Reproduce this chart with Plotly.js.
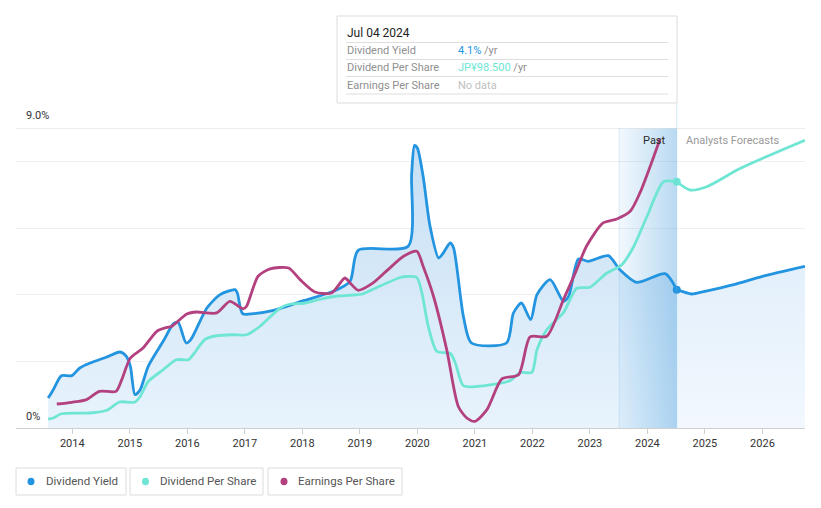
<!DOCTYPE html>
<html>
<head>
<meta charset="utf-8">
<script src="https://cdn.plot.ly/plotly-3.0.1.min.js"></script>
<style>
html,body{margin:0;padding:0;background:#fff;}
#chart{width:821px;height:508px;}
</style>
</head>
<body>
<div id="chart"></div>
<script>
// ---- Data (decimal years) ----
// Dividend Yield (%), past
const yieldYears = [2013.58,2013.67,2013.81,2013.99,2014.13,2014.31,2014.60,2014.83,2014.94,2015.01,2015.09,2015.18,2015.32,2015.58,2015.76,2015.84,2015.98,2016.06,2016.34,2016.57,2016.83,2016.87,2016.96,2017.15,2017.50,2017.73,2018.02,2018.54,2018.83,2018.97,2019.84,2019.90,2019.95,2020.00,2020.10,2020.22,2020.37,2020.45,2020.57,2020.63,2020.80,2020.94,2021.55,2021.67,2021.81,2021.97,2022.08,2022.31,2022.54,2022.63,2022.80,2022.97,2023.32,2023.52,2023.81,2024.31,2024.51];
const yieldValues = [0.90,1.15,1.57,1.57,1.80,1.95,2.13,2.28,2.15,1.85,1.00,1.15,1.85,2.60,3.13,3.17,2.55,2.65,3.60,4.00,4.15,4.05,3.43,3.43,3.53,3.65,3.82,4.10,4.40,5.33,5.45,7.60,8.48,8.40,7.55,6.05,5.10,5.25,5.55,5.40,3.35,2.55,2.55,3.45,3.75,3.25,4.00,4.45,3.80,3.95,5.07,5.00,5.17,4.75,4.37,4.63,4.15];
// Dividend Yield (%), analysts forecast
const yieldFcYears = [2024.51,2024.77,2025.00,2025.50,2026.00,2026.74];
const yieldFcValues = [4.15,4.02,4.10,4.30,4.55,4.85];

// Dividend Per Share (JP¥), past
const dpsYears = [2013.58,2013.67,2013.81,2014.31,2014.60,2014.82,2015.09,2015.18,2015.32,2015.58,2015.81,2016.02,2016.10,2016.31,2016.51,2016.80,2017.03,2017.26,2017.61,2017.79,2018.02,2018.31,2018.60,2018.89,2019.03,2019.23,2019.70,2019.81,2019.99,2020.08,2020.19,2020.34,2020.57,2020.66,2020.80,2021.03,2021.61,2021.79,2021.99,2022.08,2022.25,2022.54,2022.77,2023.00,2023.29,2023.55,2023.76,2023.99,2024.28,2024.51];
const dpsValues = [3.6,4.0,5.7,6.0,7.1,10.4,10.4,12.6,18.6,23.3,27.3,27.3,29.3,35.5,36.9,37.3,37.3,40.6,47.9,49.6,49.9,51.5,52.8,53.2,53.5,55.5,60.2,60.6,60.2,53.9,40.6,30.6,29.9,26.0,16.9,16.6,18.9,22.2,22.2,31.3,39.3,46.2,55.9,56.3,61.9,65.2,72.5,84.5,98.5,98.5];
// Dividend Per Share (JP¥), analysts forecast
const dpsFcYears = [2024.51,2024.74,2025.03,2025.61,2026.74];
const dpsFcValues = [98.5,95.2,96.5,103.8,115.1];

// Earnings Per Share (JP¥)
const epsYears = [2013.73,2013.99,2014.25,2014.47,2014.76,2014.86,2015.01,2015.23,2015.47,2015.61,2015.73,2015.99,2016.16,2016.51,2016.74,2016.97,2017.03,2017.23,2017.44,2017.76,2017.96,2018.22,2018.51,2018.74,2018.83,2018.97,2019.23,2019.49,2019.76,2019.99,2020.10,2020.28,2020.51,2020.71,2020.86,2021.00,2021.21,2021.47,2021.76,2021.96,2022.25,2022.54,2022.77,2022.94,2023.23,2023.47,2023.70,2023.87,2024.22];
const epsValues = [18.0,19.3,21.3,27.5,27.5,36.3,52.5,60.0,72.5,75.0,76.3,85.5,87.0,86.3,95.0,89.3,91.3,113.8,119.3,120.0,111.3,102.0,101.3,112.5,108.8,103.3,108.8,118.8,128.8,132.5,121.3,98.8,58.8,16.3,7.5,5.0,13.8,36.8,40.0,68.3,68.8,96.3,118.8,136.3,153.8,156.8,162.5,176.3,216.8];

const tickYears = [2014,2015,2016,2017,2018,2019,2020,2021,2022,2023,2024,2025,2026];
const pastStart = 2023.51;
const forecastStart = 2024.51;
const hoverDate = "Jul 04 2024";
const hoverYield = "4.1%";
const hoverDps = "JP¥98.500";

const C_YIELD = "#2394df", C_DPS = "#6fe6d4", C_EPS = "#b3407f";
const FONT = "Roboto, 'Open Sans', sans-serif";

// ---- layout helpers (pixel -> paper) ----
const W = 821, H = 508, M = {l:16, r:16, t:128, b:80};
const PW = W - M.l - M.r, PH = H - M.t - M.b;
const PX = x => (x - M.l) / PW;
const PY = y => (H - M.b - y) / PH;

const SM = 0.7;
const traces = [
  {x: yieldYears, y: yieldValues, mode:'lines', line:{width:0, shape:'spline', smoothing:SM},
   fill:'tozeroy', fillgradient:{type:'vertical', start:0, stop:9,
     colorscale:[[0,'rgb(232,243,252)'],[1,'rgb(196,222,244)']]}, hoverinfo:'skip', showlegend:false},
  {x: yieldFcYears, y: yieldFcValues, mode:'lines', line:{width:0, shape:'spline', smoothing:SM},
   fill:'tozeroy', fillgradient:{type:'vertical', start:0, stop:9,
     colorscale:[[0,'rgb(242,248,254)'],[1,'rgb(214,232,248)']]}, hoverinfo:'skip', showlegend:false},
  {x:[pastStart, forecastStart, forecastStart, pastStart, pastStart], y:[0,0,9,9,0], mode:'lines',
   line:{width:0}, fill:'toself', fillgradient:{type:'horizontal',
     colorscale:[[0,'rgba(70,157,220,0.07)'],[1,'rgba(70,157,220,0.38)']]}, hoverinfo:'skip', showlegend:false},
  {x: yieldYears, y: yieldValues, mode:'lines', line:{color:C_YIELD, width:2.8, shape:'spline', smoothing:SM}, hoverinfo:'skip', showlegend:false},
  {x: yieldFcYears, y: yieldFcValues, mode:'lines', line:{color:C_YIELD, width:2.8, shape:'spline', smoothing:SM}, hoverinfo:'skip', showlegend:false},
  {x: dpsYears, y: dpsValues, yaxis:'y2', mode:'lines', line:{color:C_DPS, width:2.8, shape:'spline', smoothing:SM}, hoverinfo:'skip', showlegend:false},
  {x: dpsFcYears, y: dpsFcValues, yaxis:'y2', mode:'lines', line:{color:C_DPS, width:2.8, shape:'spline', smoothing:SM}, hoverinfo:'skip', showlegend:false},
  {x: epsYears, y: epsValues, yaxis:'y3', mode:'lines', line:{color:C_EPS, width:2.8, shape:'spline', smoothing:SM}, hoverinfo:'skip', showlegend:false},
  {x:[yieldFcYears[0]], y:[yieldFcValues[0]], mode:'markers', marker:{color:C_YIELD, size:8}, hoverinfo:'skip', showlegend:false, cliponaxis:false},
  {x:[dpsFcYears[0]], y:[dpsFcValues[0]], yaxis:'y2', mode:'markers', marker:{color:C_DPS, size:8}, hoverinfo:'skip', showlegend:false, cliponaxis:false}
];

const shapes = [
  // top 9% line
  {type:'line', xref:'paper', yref:'y', x0:0, x1:1, y0:9, y1:9, line:{color:'#d9d9d9', width:1}},
  // past region left border
  {type:'line', xref:'x', yref:'paper', x0:pastStart, x1:pastStart, y0:0, y1:1, line:{color:'rgba(70,157,220,0.18)', width:1}},
  // hover line from tooltip
  {type:'line', xref:'x', yref:'paper', x0:forecastStart, x1:forecastStart, y0:0, y1:PY(103), line:{color:'rgba(120,185,235,0.35)', width:1}},
  // tooltip box
  {type:'rect', xref:'paper', yref:'paper', x0:PX(337), x1:PX(677), y0:PY(103), y1:PY(16), fillcolor:'#ffffff', line:{color:'#dcdcdc', width:1}},
];
[42.5, 59.5, 76.5, 94].forEach(y => shapes.push({type:'line', xref:'paper', yref:'paper', x0:PX(346), x1:PX(668), y0:PY(y), y1:PY(y), line:{color:'#dedede', width:1}}));

const annotations = [
  {text:'9.0%', xref:'paper', yref:'paper', x:PX(24), y:PY(116), xanchor:'left', yanchor:'middle', showarrow:false, font:{family:FONT, size:11, color:'#333'}},
  {text:'0%', xref:'paper', yref:'paper', x:PX(24), y:PY(416), xanchor:'left', yanchor:'middle', showarrow:false, font:{family:FONT, size:11, color:'#333'}},
  {text:'Past', xref:'paper', yref:'paper', x:PX(668), y:PY(140.5), xanchor:'right', yanchor:'middle', showarrow:false, font:{family:FONT, size:11, color:'#2a2a2a'}},
  {text:'Analysts Forecasts', xref:'paper', yref:'paper', x:PX(684), y:PY(140.5), xanchor:'left', yanchor:'middle', showarrow:false, font:{family:FONT, size:11, color:'#999'}},
  {text:hoverDate, xref:'paper', yref:'paper', x:PX(345), y:PY(32.5), xanchor:'left', yanchor:'middle', showarrow:false, font:{family:FONT, size:12, color:'#222'}},
  {text:'Dividend Yield', xref:'paper', yref:'paper', x:PX(345), y:PY(50.7), xanchor:'left', yanchor:'middle', showarrow:false, font:{family:FONT, size:11, color:'#8f8f8f'}},
  {text:'Dividend Per Share', xref:'paper', yref:'paper', x:PX(345), y:PY(67.5), xanchor:'left', yanchor:'middle', showarrow:false, font:{family:FONT, size:11, color:'#8f8f8f'}},
  {text:'Earnings Per Share', xref:'paper', yref:'paper', x:PX(345), y:PY(85), xanchor:'left', yanchor:'middle', showarrow:false, font:{family:FONT, size:11, color:'#8f8f8f'}},
  {text:'<span style="color:'+C_YIELD+'">'+hoverYield+'</span> /yr', xref:'paper', yref:'paper', x:PX(456), y:PY(50.7), xanchor:'left', yanchor:'middle', showarrow:false, font:{family:FONT, size:11, color:'#8f8f8f'}},
  {text:'<span style="color:'+C_DPS+'">'+hoverDps+'</span> /yr', xref:'paper', yref:'paper', x:PX(456), y:PY(67.5), xanchor:'left', yanchor:'middle', showarrow:false, font:{family:FONT, size:11, color:'#8f8f8f'}},
  {text:'No data', xref:'paper', yref:'paper', x:PX(456), y:PY(85), xanchor:'left', yanchor:'middle', showarrow:false, font:{family:FONT, size:11, color:'#c0c0c0'}},
];

// legend boxes
const legendItems = [
  {name:'Dividend Yield', color:C_YIELD, x0:16, x1:126, dot:31, tx:44},
  {name:'Dividend Per Share', color:C_DPS, x0:130, x1:263, dot:145.5, tx:158},
  {name:'Earnings Per Share', color:C_EPS, x0:268, x1:402, dot:284, tx:296}
];
legendItems.forEach(it => {
  shapes.push({type:'rect', xref:'paper', yref:'paper', x0:PX(it.x0), x1:PX(it.x1), y0:PY(495), y1:PY(468), fillcolor:'#fff', line:{color:'#dcdcdc', width:1}});
  shapes.push({type:'circle', xref:'paper', yref:'paper', xsizemode:'pixel', ysizemode:'pixel', xanchor:PX(it.dot), yanchor:PY(481.5), x0:-3.5, x1:3.5, y0:-3.8, y1:3.8, fillcolor:it.color, line:{width:0}});
  annotations.push({text:it.name, xref:'paper', yref:'paper', x:PX(it.tx), y:PY(481.5), xanchor:'left', yanchor:'middle', showarrow:false, font:{family:FONT, size:11.5, color:'#555'}});
});

const layout = {
  width:W, height:H, margin:M, paper_bgcolor:'#fff', plot_bgcolor:'#fff',
  showlegend:false, hovermode:false,
  font:{family:FONT, size:11, color:'#333'},
  xaxis:{range:[2013.021, 2026.74], tickvals:tickYears, ticktext:tickYears.map(String), showgrid:false, zeroline:false,
    showline:true, linecolor:'#d0d0d0', linewidth:1, ticks:'outside', ticklen:5, tickcolor:'#d0d0d0',
    tickfont:{family:FONT, size:11, color:'#333'}, fixedrange:true},
  yaxis:{range:[0,9], tickvals:[0,2,4,6,8], showticklabels:false, showgrid:true, gridcolor:'#efefef', zeroline:false, fixedrange:true},
  yaxis2:{range:[0,120], overlaying:'y', visible:false, fixedrange:true},
  yaxis3:{range:[0,225], overlaying:'y', visible:false, fixedrange:true},
  shapes:shapes, annotations:annotations
};

Plotly.newPlot('chart', traces, layout, {displayModeBar:false, staticPlot:true});
</script>
</body>
</html>
